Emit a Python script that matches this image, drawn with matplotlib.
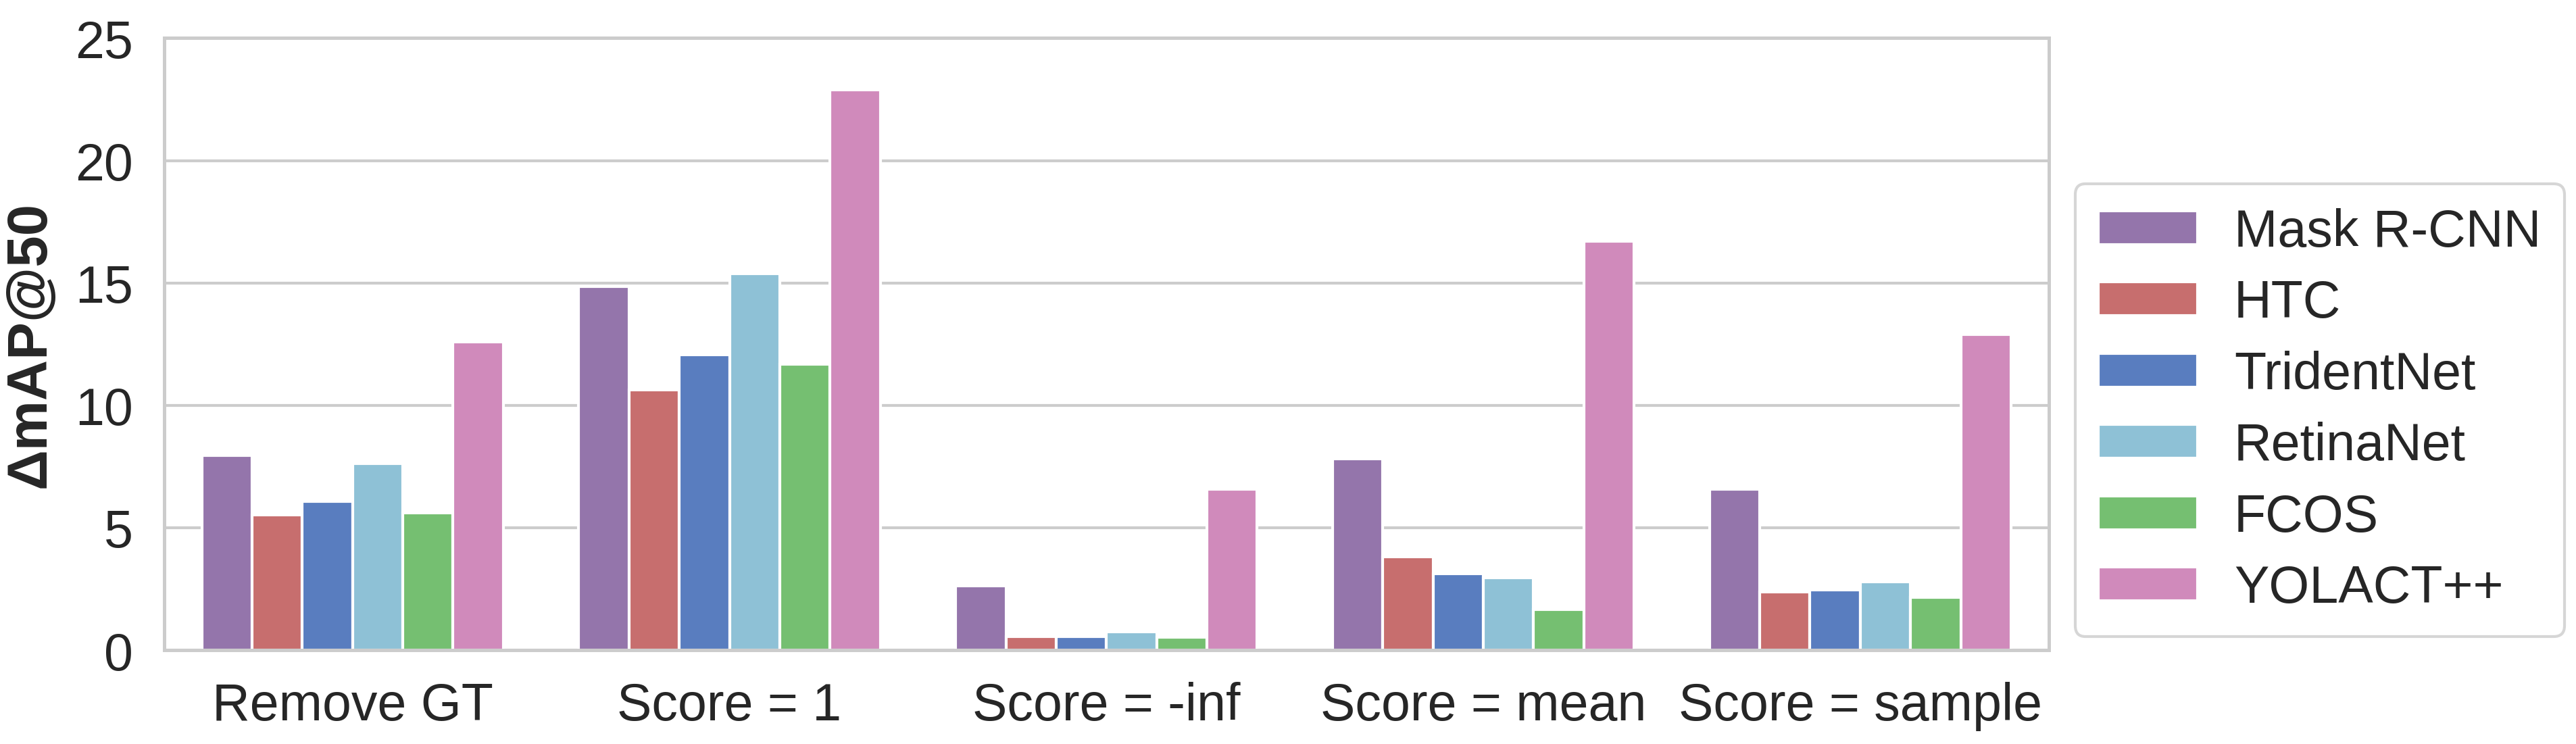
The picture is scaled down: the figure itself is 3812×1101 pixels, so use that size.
import matplotlib
matplotlib.use("Agg")
import matplotlib.pyplot as plt
import numpy as np
import seaborn as sns

categories = ["Remove GT", "Score = 1", "Score = -inf", "Score = mean", "Score = sample"]
models = ["Mask R-CNN", "HTC", "TridentNet", "RetinaNet", "FCOS", "YOLACT++"]
mask_rcnn = [7.96, 14.85, 2.64, 7.82, 6.58]
htc = [5.53, 10.64, 0.56, 3.82, 2.37]
tridentnet = [6.09, 12.07, 0.56, 3.11, 2.45]
retinanet = [7.61, 15.39, 0.74, 2.97, 2.78]
fcos = [5.61, 11.68, 0.54, 1.67, 2.17]
yolact = [12.6, 22.88, 6.58, 16.69, 12.89]
series = [mask_rcnn, htc, tridentnet, retinanet, fcos, yolact]
yticks = [0, 5, 10, 15, 20, 25]

sns.set_theme(style="whitegrid")
plt.rcParams['font.family'] = ['Liberation Sans', 'DejaVu Sans']

muted = sns.color_palette("muted")
base = [muted[4], muted[3], muted[0], muted[9], muted[2], muted[6]]
colors = [sns.desaturate(c, 0.75) for c in base]

fig = plt.figure(figsize=(12.707, 3.673), dpi=300)
ax = fig.add_axes([0.0637, 0.126, 0.7316, 0.822])

n = len(models)
width = 0.8 / n
x = np.arange(len(categories))
for i, (name, vals) in enumerate(zip(models, series)):
    ax.bar(x - 0.4 + width * (i + 0.5), vals, width=width, color=colors[i],
           edgecolor="white", linewidth=1.0, label=name, zorder=2)

ax.set_xlim(-0.5, len(categories) - 0.5)
ax.set_ylim(0, 25)
ax.set_yticks(yticks)
ax.set_xticks(x)
ax.set_xticklabels(categories)
ax.tick_params(axis="both", labelsize=18.5, pad=5)
ax.grid(axis="x", visible=False)
ax.grid(axis="y", color="#cccccc", linewidth=1.0, zorder=0)
ax.set_axisbelow(True)
for s in ax.spines.values():
    s.set_color("#cccccc")
    s.set_linewidth(1.2)
ax.set_ylabel("ΔmAP@50", fontsize=20, fontweight="bold", labelpad=6.5)

leg = ax.legend(loc="center left", bbox_to_anchor=(1.014, 0.392), borderaxespad=0,
                fontsize=18.5, frameon=True, handlelength=1.9, handleheight=0.62,
                handletextpad=0.7, labelspacing=0.42, borderpad=0.45)
leg.get_frame().set_edgecolor("#cccccc")

fig.savefig("out.png", dpi=300)
